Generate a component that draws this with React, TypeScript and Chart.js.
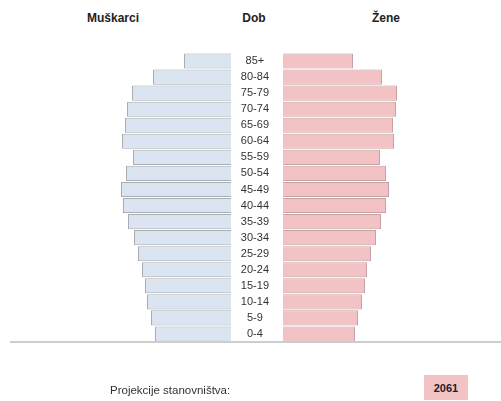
import React, { useEffect, useRef } from "react";
import { Chart, registerables } from "chart.js";

Chart.register(...registerables);

const ageGroups = ["0-4", "5-9", "10-14", "15-19", "20-24", "25-29", "30-34", "35-39", "40-44", "45-49", "50-54", "55-59", "60-64", "65-69", "70-74", "75-79", "80-84", "85+"];
const maleValues = [76, 80, 84, 86, 89, 93, 97, 103, 108, 110, 105, 98, 109, 106, 104, 99, 78, 47];
const femaleValues = [72, 75, 79, 82, 84, 88, 93, 98, 103, 106, 103, 97, 111, 110, 113, 114, 99, 70];
const maleMax = 221;
const femaleMax = 218;
const titleMale = "Muškarci";
const titleAge = "Dob";
const titleFemale = "Žene";
const footerLabel = "Projekcije stanovništva:";
const yearLabel = "2061";

const FONT = "'Liberation Sans', Arial, sans-serif";

export default function App() {
  const maleRef = useRef<HTMLCanvasElement>(null);
  const femaleRef = useRef<HTMLCanvasElement>(null);

  useEffect(() => {
    const padding = { top: 53, bottom: 59, left: 0, right: 0 };
    const male = new Chart(maleRef.current!, {
      type: "bar",
      data: {
        labels: ageGroups,
        datasets: [
          {
            data: maleValues,
            backgroundColor: "#dbe5f1",
            borderColor: "#a9acb0",
            borderWidth: 1,
            barPercentage: 1,
            categoryPercentage: 0.94,
          },
        ],
      },
      options: {
        indexAxis: "y",
        responsive: false,
        animation: false,
        layout: { padding },
        plugins: { legend: { display: false }, tooltip: { enabled: false } },
        scales: {
          x: { display: false, reverse: true, min: 0, max: maleMax },
          y: { display: false, reverse: true },
        },
      },
    });
    const female = new Chart(femaleRef.current!, {
      type: "bar",
      data: {
        labels: ageGroups,
        datasets: [
          {
            data: femaleValues,
            backgroundColor: "#f2c2c4",
            borderColor: "#c4a2a3",
            borderWidth: 1,
            barPercentage: 1,
            categoryPercentage: 0.94,
          },
        ],
      },
      options: {
        indexAxis: "y",
        responsive: false,
        animation: false,
        layout: { padding },
        plugins: { legend: { display: false }, tooltip: { enabled: false } },
        scales: {
          x: { display: false, min: 0, max: femaleMax },
          y: {
            reverse: true,
            grid: { display: false, drawTicks: false },
            border: { display: false },
            afterFit: (scale: any) => {
              scale.width = 52;
            },
            ticks: {
              autoSkip: false,
              crossAlign: "center",
              padding: 14,
              color: "#333",
              font: { family: FONT, size: 11 },
            },
          },
        },
      },
    });
    return () => {
      male.destroy();
      female.destroy();
    };
  }, []);

  const headerStyle = (center: number): React.CSSProperties => ({
    position: "absolute",
    left: center - 50,
    width: 100,
    top: 11,
    textAlign: "center",
    fontWeight: "bold",
    fontSize: 12,
    lineHeight: "15px",
    color: "#222",
  });

  return (
    <div
      style={{
        position: "absolute",
        left: 0,
        top: 0,
        width: 501,
        height: 401,
        overflow: "hidden",
        background: "#fff",
        fontFamily: FONT,
      }}
    >
      <div style={headerStyle(113)}>{titleMale}</div>
      <div style={headerStyle(254)}>{titleAge}</div>
      <div style={headerStyle(386)}>{titleFemale}</div>
      <canvas
        ref={maleRef}
        width={221}
        height={401}
        style={{ position: "absolute", left: 10, top: 0, width: 221, height: 401 }}
      />
      <canvas
        ref={femaleRef}
        width={270}
        height={401}
        style={{ position: "absolute", left: 231, top: 0, width: 270, height: 401 }}
      />
      <div
        style={{
          position: "absolute",
          left: 10,
          top: 341,
          width: 491,
          height: 2,
          background: "#cdcdcd",
        }}
      />
      <div
        style={{
          position: "absolute",
          left: 110,
          top: 383,
          fontSize: 11.5,
          lineHeight: "14px",
          color: "#333",
          whiteSpace: "nowrap",
        }}
      >
        {footerLabel}
      </div>
      <div
        style={{
          position: "absolute",
          left: 424,
          top: 375,
          width: 44,
          height: 25,
          background: "#f2c2c4",
          textAlign: "center",
          lineHeight: "26px",
          fontWeight: "bold",
          fontSize: 11,
          color: "#222",
        }}
      >
        {yearLabel}
      </div>
    </div>
  );
}
